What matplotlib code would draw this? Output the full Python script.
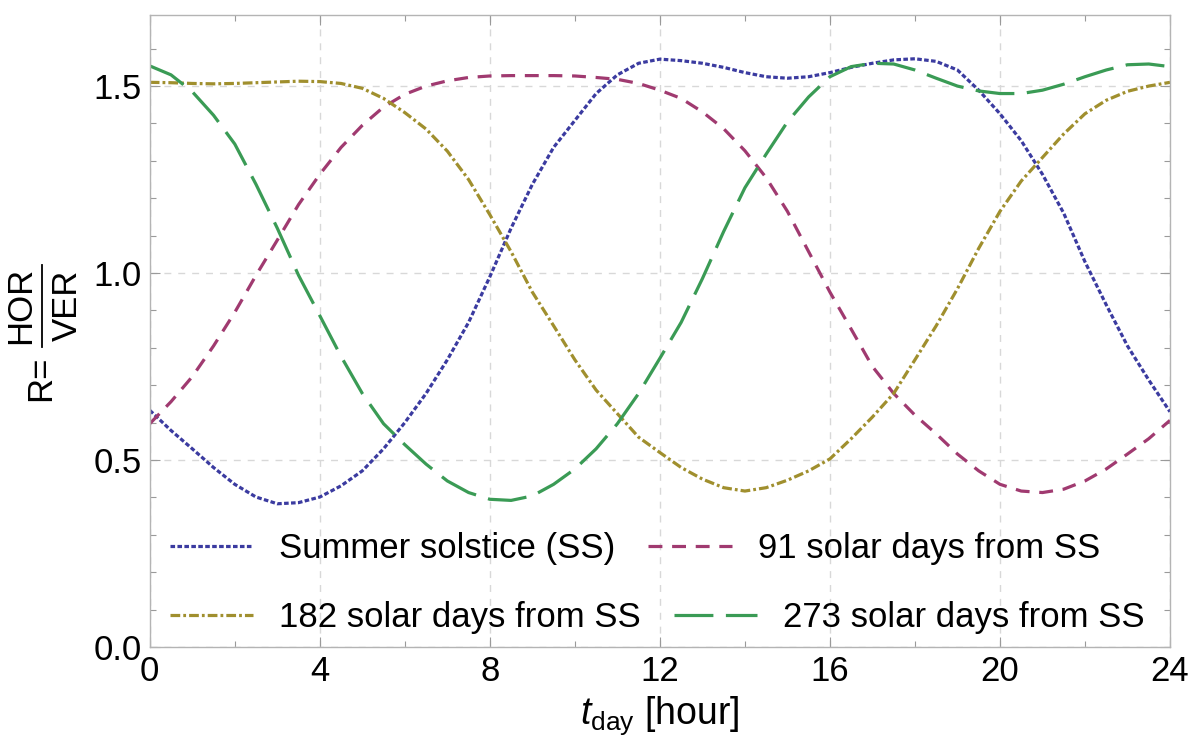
import numpy as np
import matplotlib
matplotlib.use('Agg')
import matplotlib.pyplot as plt
from matplotlib.lines import Line2D
from matplotlib.ticker import MultipleLocator

plt.rcParams['font.family'] = ['Liberation Sans', 'DejaVu Sans']
plt.rcParams['mathtext.fontset'] = 'custom'
plt.rcParams['mathtext.rm'] = 'Liberation Sans'
plt.rcParams['mathtext.it'] = 'Liberation Sans:italic'
plt.rcParams['lines.scale_dashes'] = False

# hours of the day (half-hour readings)
t_hour = [0, 0.5, 1, 1.5, 2, 2.5, 3, 3.5, 4, 4.5, 5, 5.5, 6, 6.5, 7, 7.5, 8, 8.5,
          9, 9.5, 10, 10.5, 11, 11.5, 12, 12.5, 13, 13.5, 14, 14.5, 15, 15.5, 16, 16.5,
          17, 17.5, 18, 18.5, 19, 19.5, 20, 20.5, 21, 21.5, 22, 22.5, 23, 23.5, 24]

# R = HOR/VER
r_ss = [0.633, 0.579, 0.530, 0.480, 0.435, 0.401, 0.383, 0.386, 0.401, 0.431, 0.471, 0.530,
        0.600, 0.678, 0.768, 0.868, 0.990, 1.120, 1.237, 1.336, 1.408, 1.480, 1.530, 1.561,
        1.572, 1.568, 1.561, 1.550, 1.536, 1.525, 1.521, 1.525, 1.536, 1.550, 1.561, 1.570,
        1.573, 1.566, 1.543, 1.489, 1.426, 1.354, 1.264, 1.160, 1.030, 0.915, 0.805, 0.714, 0.629]
r_91 = [0.597, 0.656, 0.723, 0.805, 0.895, 0.994, 1.088, 1.183, 1.264, 1.336, 1.395, 1.444,
        1.478, 1.500, 1.514, 1.523, 1.527, 1.528, 1.528, 1.528, 1.527, 1.523, 1.518, 1.507,
        1.489, 1.467, 1.431, 1.386, 1.327, 1.255, 1.165, 1.057, 0.949, 0.850, 0.750, 0.678,
        0.620, 0.570, 0.516, 0.471, 0.435, 0.417, 0.413, 0.422, 0.444, 0.476, 0.516, 0.557, 0.606]
r_182 = [1.510, 1.509, 1.507, 1.506, 1.507, 1.509, 1.511, 1.513, 1.512, 1.507, 1.494, 1.467,
         1.429, 1.385, 1.326, 1.250, 1.156, 1.057, 0.949, 0.859, 0.768, 0.687, 0.624, 0.561,
         0.520, 0.480, 0.449, 0.426, 0.417, 0.426, 0.446, 0.471, 0.503, 0.557, 0.615, 0.678,
         0.768, 0.859, 0.958, 1.066, 1.165, 1.246, 1.309, 1.372, 1.426, 1.462, 1.486, 1.500, 1.510]
r_273 = [1.554, 1.530, 1.485, 1.422, 1.345, 1.237, 1.120, 0.994, 0.886, 0.777, 0.678, 0.597,
         0.541, 0.489, 0.444, 0.413, 0.395, 0.392, 0.404, 0.435, 0.476, 0.530, 0.597, 0.678,
         0.772, 0.868, 0.985, 1.111, 1.228, 1.318, 1.404, 1.471, 1.525, 1.552, 1.561, 1.559,
         1.543, 1.521, 1.500, 1.487, 1.480, 1.480, 1.489, 1.505, 1.525, 1.543, 1.557, 1.559, 1.552]

labels = ['Summer solstice (SS)', '91 solar days from SS',
          '182 solar days from SS', '273 solar days from SS']
colors = ['#3b3ba0', '#a03a70', '#a08f2e', '#3a9b55']
dash_styles = [(0, (3.3, 1.7)), (0, (10, 7)), (0, (7, 2.2, 2, 2.2)), (0, (28, 9))]

fig = plt.figure(figsize=(12, 7.51), dpi=100)
ax = fig.add_axes([0.1248, 0.1385, 0.8502, 0.8415])

lines = []
for r, lab, c, ls in zip([r_ss, r_91, r_182, r_273], labels, colors, dash_styles):
    ln, = ax.plot(t_hour, r, color=c, linestyle=ls, lw=2.3, label=lab)
    lines.append(ln)

ax.set_xlim(0, 24)
ax.set_ylim(0, 1.69)
ax.xaxis.set_major_locator(MultipleLocator(4))
ax.xaxis.set_minor_locator(MultipleLocator(2))
ax.yaxis.set_major_locator(MultipleLocator(0.5))
ax.yaxis.set_minor_locator(MultipleLocator(0.1))
ax.set_yticks([0, 0.5, 1.0, 1.5])
ax.set_yticklabels(['0.0', '0.5', '1.0', '1.5'])

ax.grid(True, which='major', color='#d8d8d8', lw=1.0, linestyle=(0, (5, 5)))
ax.tick_params(which='both', direction='in', top=True, right=True, color='#9a9a9a',
               labelsize=25, width=0.8)
ax.tick_params(which='major', length=7, pad=6)
ax.tick_params(which='minor', length=4)
for s in ax.spines.values():
    s.set_color('#b4b4b4')
    s.set_linewidth(1.0)

ax.set_xlabel(r'$t_{\mathrm{day}}$ [hour]', fontsize=27, labelpad=4)

# y label: R = HOR over VER, built from rotated texts and a bar
fig.text(0.0335, 0.497, 'R=', rotation=90, fontsize=25, ha='center', va='center')
fig.text(0.0175, 0.594, 'HOR', rotation=90, fontsize=25, ha='center', va='center')
fig.text(0.0565, 0.593, 'VER', rotation=90, fontsize=25, ha='center', va='center')
fig.add_artist(Line2D([0.035, 0.035], [0.538, 0.647], transform=fig.transFigure,
                      color='black', lw=1.3))

# legend, one row at a time
leg_kw = dict(ncol=2, frameon=False, fontsize=25, handlelength=2.4, handletextpad=0.75,
              columnspacing=0.95, borderaxespad=0.0, loc='center left')
leg1 = ax.legend(lines[:2], labels[:2], bbox_to_anchor=(0.006, 0.156), **leg_kw)
ax.add_artist(leg1)
ax.legend(lines[2:], labels[2:], bbox_to_anchor=(0.006, 0.046), **leg_kw)

fig.savefig('out.png', dpi=100)
